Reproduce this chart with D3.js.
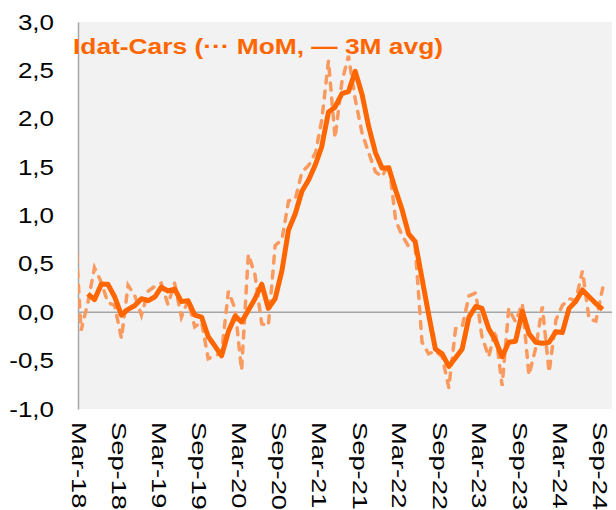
<!DOCTYPE html>
<html>
<head>
<meta charset="utf-8">
<script src="https://cdn.jsdelivr.net/npm/d3@7"></script>
<style>
  body { margin: 0; background: #fff; }
  svg { display: block; font-family: Arial, "Liberation Sans", sans-serif; }
</style>
</head>
<body>
<svg id="chart" width="616" height="510"></svg>
<script>
// month-on-month, Feb-18 .. Sep-24 (first point falls left of the axis)
const momValues = [0.9,
  -0.19, 0.1, 0.46, 0.31, 0.1, 0.07, -0.27, 0.28, 0.17, -0.03,
  0.22, 0.27, 0.3, 0.08, 0.3, -0.05, 0.12, -0.15, -0.1, -0.48,
  -0.45, -0.42, 0.22, 0.03, -0.6, 0.6, 0.39, -0.12, -0.14, 0.69,
  0.75, 1.15, 1.17, 1.45, 1.52, 1.65, 1.98, 2.6, 1.8, 2.38,
  2.65, 2.2, 1.85, 1.65, 1.45, 1.4, 1.54, 0.95, 0.8, 0.68,
  0.68, -0.31, -0.43, -0.4, -0.46, -0.78, -0.17, -0.15, 0.17, 0.2,
  -0.25, -0.46, -0.19, -0.76, 0.04, -0.1, 0.09, -0.65, -0.37, 0.06,
  -0.62, -0.08, 0.07, 0.14, 0.12, 0.43, -0.07, -0.09, 0.25];

// 3 month average, Apr-18 .. Sep-24
const avgValues = [
  0.19, 0.13, 0.29, 0.29, 0.16, -0.03, 0.03, 0.07, 0.14, 0.12,
  0.16, 0.26, 0.22, 0.24, 0.11, 0.12, -0.03, -0.05, -0.25, -0.35,
  -0.45, -0.2, -0.04, -0.1, 0.02, 0.14, 0.29, 0.04, 0.14, 0.43,
  0.85, 1.02, 1.25, 1.37, 1.53, 1.71, 2.07, 2.12, 2.26, 2.28,
  2.49, 2.25, 1.92, 1.65, 1.49, 1.49, 1.26, 1.07, 0.81, 0.73,
  0.35, -0.02, -0.38, -0.43, -0.56, -0.47, -0.38, -0.05, 0.06, 0.04,
  -0.17, -0.29, -0.46, -0.31, -0.3, 0.01, -0.22, -0.31, -0.32, -0.31,
  -0.2, -0.21, 0.04, 0.11, 0.23, 0.16, 0.09, 0.03];

const tickLabels = ["Mar-18", "Sep-18", "Mar-19", "Sep-19", "Mar-20", "Sep-20", "Mar-21",
  "Sep-21", "Mar-22", "Sep-22", "Mar-23", "Sep-23", "Mar-24", "Sep-24"];
const yTicks = [-1, -0.5, 0, 0.5, 1, 1.5, 2, 2.5, 3];

const title = "Idat-Cars (\u00B7\u00B7\u00B7 MoM, \u2014 3M avg)";

const svg = d3.select("#chart");

const plot = {left: 78, right: 612, top: 22, bottom: 409};

// points sit mid-month
const momDates = momValues.map((d, i) => new Date(2018, 1 + i, 15));
const avgDates = avgValues.map((d, i) => new Date(2018, 3 + i, 15));
const tickDates = tickLabels.map((d, i) => new Date(2018, 2 + i * 6, 1));

const x = d3.scaleTime()
  .domain([new Date(2018, 2, 1), new Date(2024, 10, 1)])
  .range([plot.left, plot.left + 535]);

const y = d3.scaleLinear()
  .domain([-1, 3])
  .range([plot.bottom, plot.top]);

const locale = d3.formatLocale({decimal: ",", thousands: ".", grouping: [3], currency: ["", ""], minus: "-"});
const fmt = locale.format(".1f");

// plot area background
svg.append("rect")
  .attr("x", plot.left)
  .attr("y", plot.top)
  .attr("width", plot.right - plot.left)
  .attr("height", plot.bottom - plot.top)
  .attr("fill", "#f2f2f2");

svg.append("clipPath").attr("id", "clip")
  .append("rect")
  .attr("x", plot.left)
  .attr("y", plot.top)
  .attr("width", plot.right - plot.left)
  .attr("height", plot.bottom - plot.top);

// y axis labels (a bit wide, like the source)
const yAxis = svg.append("g")
  .attr("transform", `translate(${plot.left}, 0)`)
  .call(d3.axisLeft(y).tickValues(yTicks).tickFormat(fmt).tickSize(0));
yAxis.select(".domain").attr("stroke", "#a6a6a6").attr("stroke-width", 1.5);
yAxis.selectAll("text")
  .attr("fill", "#000")
  .style("font-size", "22px")
  .attr("x", -24 / 1.18)
  .attr("transform", "scale(1.18,1)");

// zero line
svg.append("line")
  .attr("x1", plot.left)
  .attr("x2", plot.right)
  .attr("y1", y(0))
  .attr("y2", y(0))
  .attr("stroke", "#a6a6a6")
  .attr("stroke-width", 1.5);

// x axis labels, rotated
const xAxis = svg.append("g")
  .attr("transform", `translate(0, ${plot.bottom})`)
  .call(d3.axisBottom(x).tickValues(tickDates).tickFormat((d, i) => tickLabels[i]).tickSize(0));
xAxis.select(".domain").remove();
xAxis.selectAll("text")
  .attr("fill", "#000")
  .style("font-size", "21px")
  .attr("text-anchor", "start")
  .attr("y", 0)
  .attr("dy", 0)
  .attr("transform", "translate(-7, 13) rotate(90) scale(1.3,1)");

const lines = svg.append("g").attr("clip-path", "url(#clip)");

const line = d3.line()
  .x(d => x(d[0]))
  .y(d => y(d[1]));

lines.append("path")
  .datum(momDates.map((d, i) => [d, momValues[i]]))
  .attr("d", line)
  .attr("fill", "none")
  .attr("stroke", "#fa9a5e")
  .attr("stroke-width", 3.5)
  .attr("stroke-dasharray", "7,8")
  .attr("stroke-linecap", "round");

lines.append("path")
  .datum(avgDates.map((d, i) => [d, avgValues[i]]))
  .attr("d", line)
  .attr("fill", "none")
  .attr("stroke", "#ff6600")
  .attr("stroke-width", 5)
  .attr("stroke-linejoin", "round");

// title
svg.append("text")
  .attr("x", 73)
  .attr("y", 54)
  .attr("fill", "#ff6600")
  .style("font-size", "22px")
  .style("font-weight", "bold")
  .attr("textLength", 370)
  .attr("lengthAdjust", "spacingAndGlyphs")
  .text(title);
</script>
</body>
</html>
